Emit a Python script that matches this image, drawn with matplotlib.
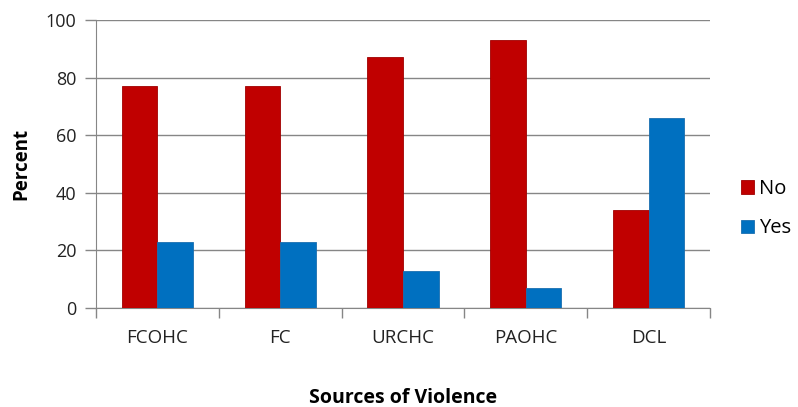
import matplotlib.pyplot as plt
import numpy as np

plt.rcParams['font.family'] = ['Open Sans', 'DejaVu Sans']

sources = ['FCOHC', 'FC', 'URCHC', 'PAOHC', 'DCL']
no_pct = [77, 77, 87, 93, 34]
yes_pct = [23, 23, 13, 7, 66]

red = '#C00000'
blue = '#0070C0'
grey = '#868686'

fig = plt.figure(figsize=(7.98, 4.07), dpi=100)
ax = fig.add_axes([0.1203, 0.2432, 0.7694, 0.7077])

x = np.arange(len(sources))
w = 0.29
ax.bar(x - w / 2, no_pct, w, color=red, edgecolor='#A00000', linewidth=0.6, label='No', zorder=3)
ax.bar(x + w / 2, yes_pct, w, color=blue, edgecolor='#1A6FB0', linewidth=0.6, label='Yes', zorder=3)

ax.set_xlim(-0.5, len(sources) - 0.5)
ax.set_ylim(0, 100)
ax.set_yticks(range(0, 101, 20))
ax.yaxis.grid(True, color=grey, linewidth=1, zorder=0)

# category boundary ticks below the axis
ax.set_xticks(np.arange(-0.5, len(sources)), minor=True)
ax.set_xticks(x)
ax.set_xticklabels(sources)
ax.tick_params(axis='x', which='major', length=0, pad=15, labelsize=13.5, colors='#222222')
ax.tick_params(axis='x', which='minor', length=7, color=grey, width=1)
ax.tick_params(axis='y', length=8, color=grey, width=1, labelsize=13, colors='#222222', pad=6)

for s in ['top', 'right']:
    ax.spines[s].set_visible(False)
ax.spines['left'].set_color(grey)
ax.spines['bottom'].set_color(grey)

ax.set_ylabel('Percent', fontweight='bold', fontsize=13.5, va='center')
ax.yaxis.set_label_coords(-0.122, 0.5)
ax.set_xlabel('Sources of Violence', fontweight='bold', fontsize=14, va='center')
ax.xaxis.set_label_coords(0.5, -0.312)

fig.legend(loc='center left', bbox_to_anchor=(0.929, 0.487), frameon=False,
           borderpad=0, borderaxespad=0,
           handlelength=0.65, handleheight=0.65, handletextpad=0.25,
           labelspacing=0.95, fontsize=14.5)

fig.savefig('out.png', dpi=100)
